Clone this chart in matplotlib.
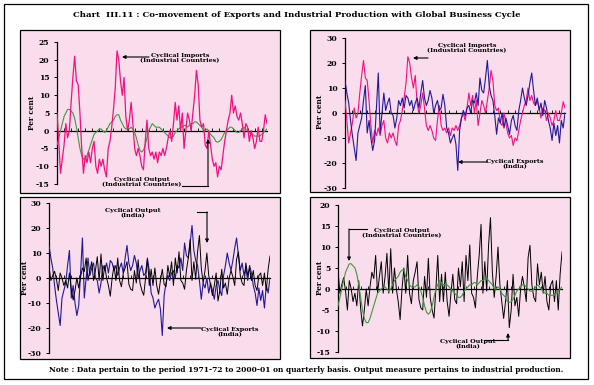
import matplotlib
matplotlib.use("Agg")
import matplotlib.pyplot as plt
from matplotlib.patches import Rectangle
import numpy as np

# ---------------- data (quarterly, 1971-72 to 2000-01) ----------------
imports_ic = [5, -3, -12, -8, -4, 2, -2, 0, 8, 15, 21, 14, 13, 5, -5, -12, -7, -9, -6, -9,
              -5, -3, -10, -12, -8, -10, -8, -11, -13, -5, -3, 1, 6, 12, 22.5, 20, 14, 10, 15, 4,
              0, 3, 8, 2, -5, -7, -5, -7, -10, -11, -3, 3, -5, -7, -6, -8, -6, -9, -6, -7,
              -5, -7, -5, -2, 0, -3, 2, 8, 3, 7, 0, 5, -5, 0, 5, 3, 0, 5, 10, 17,
              13, 3, 1, 2, -4, -5, 0, -4, -8, -10, -9, -13, -10, -11, -7, -3, 0, 3, 5, 10,
              5, 7, 4, 3, 5, 2, -2, 2, 1, -3, 0, -2, -5, -3, 1, -3, -3, 0, 4.5, 2]

output_ic = [-4, -2, 0, 2, 4, 5, 6, 6, 5.5, 5, 3.5, 1, -2, -5, -7, -8, -8, -7, -5.5, -4,
             -2.5, -1, -0.5, 0, 0.5, 0.5, 0, -0.5, 0, 1, 2, 2.5, 3, 4, 4.5, 4.5, 3, 2, 1, 0.5,
             0.5, 0.5, 1, 0.5, -0.5, -2, -4, -5.5, -6, -5.5, -4, -2, 0, 1, 2, 1.5, 1, 1, 1, 0.5,
             0, -0.5, -1, -1.5, -2, -2, -1.5, -0.5, 0, 0.5, 1, 1, 1.5, 1.5, 1, 1.5, 2, 2, 2.5, 2.5,
             2, 1.5, 1, 0, 0, 0.5, 0, -1, -1.5, -2, -3, -3.2, -3, -2.5, -1.5, -0.5, 0, 0.5, 1, 1,
             0.5, 0, -0.5, -0.5, 0, 0.5, 1, 0.5, 0, -0.5, -1, -1, -1.5, -1.5, -1.5, -1.5, -1, -0.5, 0, 0.5]

exports_india = [13, 8, 4, -3, -9, -14, -19, -8, -5, -2, 5, 11, -8, -3, -10, -15, -11, 2, 16, -8,
                 0, 8, 1, 4, 6, 0, -1, -6, -2, 5, 3, 6, 2, 7, 6, 3, 5, 1, 4, 6,
                 2, 8, 13, 6, 3, 5, 9, 6, 0, 3, 5, 1, 2, 7.5, 3, -6, -8, -12, -10, -8.5,
                 -12.5, -23, -7, -2, 1, -1, 2, 3, 0, 5, 4, 8, 3, 14, 9, 8, 14, 21, 11, 7,
                 5, -1, -8.5, -2, -4, 0, -6, -2, -5, -8.5, -3, -1, -5, -7, 1, 5, 10, 6, 3, 7,
                 12, 16, 9, 3, 6, 1, 4, -1, 5, 2, -3, -6, -11, -4, -9, -5, -12, -3, -6, 0]

output_india = [4.5, -1, 1, 2.7, -0.5, -5, 2, 0, -3, -1, -4, 2, -4.5, -8.8, -5, 0, -4, 0.5, 4, 2.5,
                8, -1, 3, 6.5, -1, 3, 8.5, -1, 9.6, -1, 5, 0, -3, -7.3, 0, 5, -1, 8, -1, -3.5,
                2, 4, 6.5, -2.5, -4.5, -5, 3, -2, 7.3, -2, -5, -6.9, 0, 8, -3, 3.5, -3, 4, -3, -6.5,
                -1, 3.5, -2.5, -3.5, 5, 0.5, 6.5, -3, 8, 2, 10.5, -1, -2, -4.5, 3, 8, 15.4, -1, 6.5, -0.5,
                10.5, 17, 4, -2, 3, 10, 1, -3, -7, -3, 2, -9.2, -5, 3.5, -4, -2, -6.5, 0, 3, 0.5,
                -3, 7.5, 10.4, 1, -2, -3, 6, 1, 4, -1, 3, -3, -5, 1, 2, -3, 2, -5, 3.5, 8.8]

title = "Chart  III.11 : Co-movement of Exports and Industrial Production with Global Business Cycle"
note = ("Note : Data pertain to the period 1971-72 to 2000-01 on quarterly basis. "
        "Output measure pertains to industrial production.")

# ---------------- styling ----------------
W, H = 594, 385
PINK = "#F2107E"
GREEN = "#3E9A3E"
BLUE = "#23189A"
BLACK = "#000000"
BG = "#F9DDEC"
FONT = dict(family="DejaVu Serif", weight="bold")

fig = plt.figure(figsize=(W / 100, H / 100), dpi=100)
fig.patch.set_facecolor("white")

# background overlay in pixel coordinates
bg = fig.add_axes([0, 0, 1, 1], zorder=0)
bg.set_xlim(0, W)
bg.set_ylim(H, 0)
bg.axis("off")
bg.add_patch(Rectangle((4, 4), 584, 375, fill=False, ec="black", lw=0.9))

frames = [(20, 30, 280, 193), (310, 30, 570, 192), (20, 197, 280, 359), (310, 197, 570, 358)]
for (x0, y0, x1, y1) in frames:
    bg.add_patch(Rectangle((x0, y0), x1 - x0, y1 - y0, fc=BG, ec="black", lw=0.9))

bg.text(W / 2, 15, title, ha="center", va="center", fontsize=6.1, **FONT)
bg.text(306, 370, note, ha="center", va="center", fontsize=5.45, **FONT)


def make_axes(x0, y0, x1, y1, ylim, yticks):
    ax = fig.add_axes([x0 / W, 1 - y1 / H, (x1 - x0) / W, (y1 - y0) / H], zorder=5)
    ax.patch.set_alpha(0)
    ax.set_xlim(0, 119)
    ax.set_ylim(*ylim)
    for s in ("top", "right"):
        ax.spines[s].set_visible(False)
    ax.spines["bottom"].set_position(("data", 0))
    ax.spines["bottom"].set_linewidth(0.9)
    ax.spines["left"].set_linewidth(0.9)
    ax.set_xticks(np.arange(0, 120, 4))
    ax.tick_params(axis="x", direction="in", length=2, width=0.6, labelbottom=False)
    ax.set_yticks(yticks)
    ax.set_yticklabels([str(t) for t in yticks], fontsize=5.5, **FONT)
    ax.tick_params(axis="y", direction="out", length=2.5, width=0.7, pad=3)
    return ax


x = np.arange(len(imports_ic))

ax1 = make_axes(57, 42, 267, 184, (-15, 25), [25, 20, 15, 10, 5, 0, -5, -10, -15])
ax1.plot(x, output_ic, color=GREEN, lw=0.8, zorder=3)
ax1.plot(x, imports_ic, color=PINK, lw=0.9, zorder=4)

ax2 = make_axes(345, 38, 565, 188, (-30, 30), [30, 20, 10, 0, -10, -20, -30])
ax2.plot(x, imports_ic, color=PINK, lw=0.8, zorder=3)
ax2.plot(x, exports_india, color=BLUE, lw=0.8, zorder=4)

ax3 = make_axes(49, 203, 270, 353, (-30, 30), [30, 20, 10, 0, -10, -20, -30])
ax3.plot(x, exports_india, color=BLUE, lw=0.8, zorder=3)
ax3.plot(x, output_india, color=BLACK, lw=0.7, zorder=4)

ax4 = make_axes(338, 205, 562, 352, (-15, 20), [20, 15, 10, 5, 0, -5, -10, -15])
ax4.plot(x, output_india, color=BLACK, lw=0.7, zorder=3)
ax4.plot(x, output_ic, color=GREEN, lw=0.8, zorder=4)

# foreground overlay for labels and annotations
fg = fig.add_axes([0, 0, 1, 1], zorder=10)
fg.patch.set_alpha(0)
fg.set_xlim(0, W)
fg.set_ylim(H, 0)
fg.axis("off")

for (px, py) in [(32, 113), (320, 112), (25, 278), (320, 278)]:
    fg.text(px, py, "Per cent", rotation=90, ha="center", va="center", fontsize=5.3, **FONT)


def label(px, py, txt):
    fg.text(px, py, txt, ha="center", va="center", fontsize=4.6, linespacing=1.05, **FONT)


def arrow(points):
    xs = [p[0] for p in points]
    ys = [p[1] for p in points]
    fg.plot(xs[:-1], ys[:-1], color="black", lw=0.8)
    fg.annotate("", xy=points[-1], xytext=points[-2],
                arrowprops=dict(arrowstyle="-|>", color="black", lw=0.8, mutation_scale=5,
                                shrinkA=0, shrinkB=0))


label(180, 58, "Cyclical Imports\n(Industrial Countries)")
arrow([(149, 57), (122, 57)])
label(142, 182, "Cyclical Output\n(Industrial Countries)")
arrow([(182, 186), (208, 186), (208, 139)])

label(467, 48, "Cyclical Imports\n(Industrial Countries)")
arrow([(428, 58), (413, 58)])
label(515, 164, "Cyclical Exports\n(India)")
arrow([(487, 162), (458, 162)])

label(133, 213, "Cyclical Output\n(India)")
arrow([(197, 212), (207, 212), (207, 243)])
label(230, 332, "Cyclical Exports\n(India)")
arrow([(201, 328), (167, 328)])

label(402, 233, "Cyclical Output\n(Industrial Countries)")
arrow([(367, 229), (349, 229), (349, 261)])
label(468, 344, "Cyclical Output\n(India)")
arrow([(484, 340), (508, 340), (508, 333)])

fig.savefig("out.png", dpi=100, facecolor="white")
